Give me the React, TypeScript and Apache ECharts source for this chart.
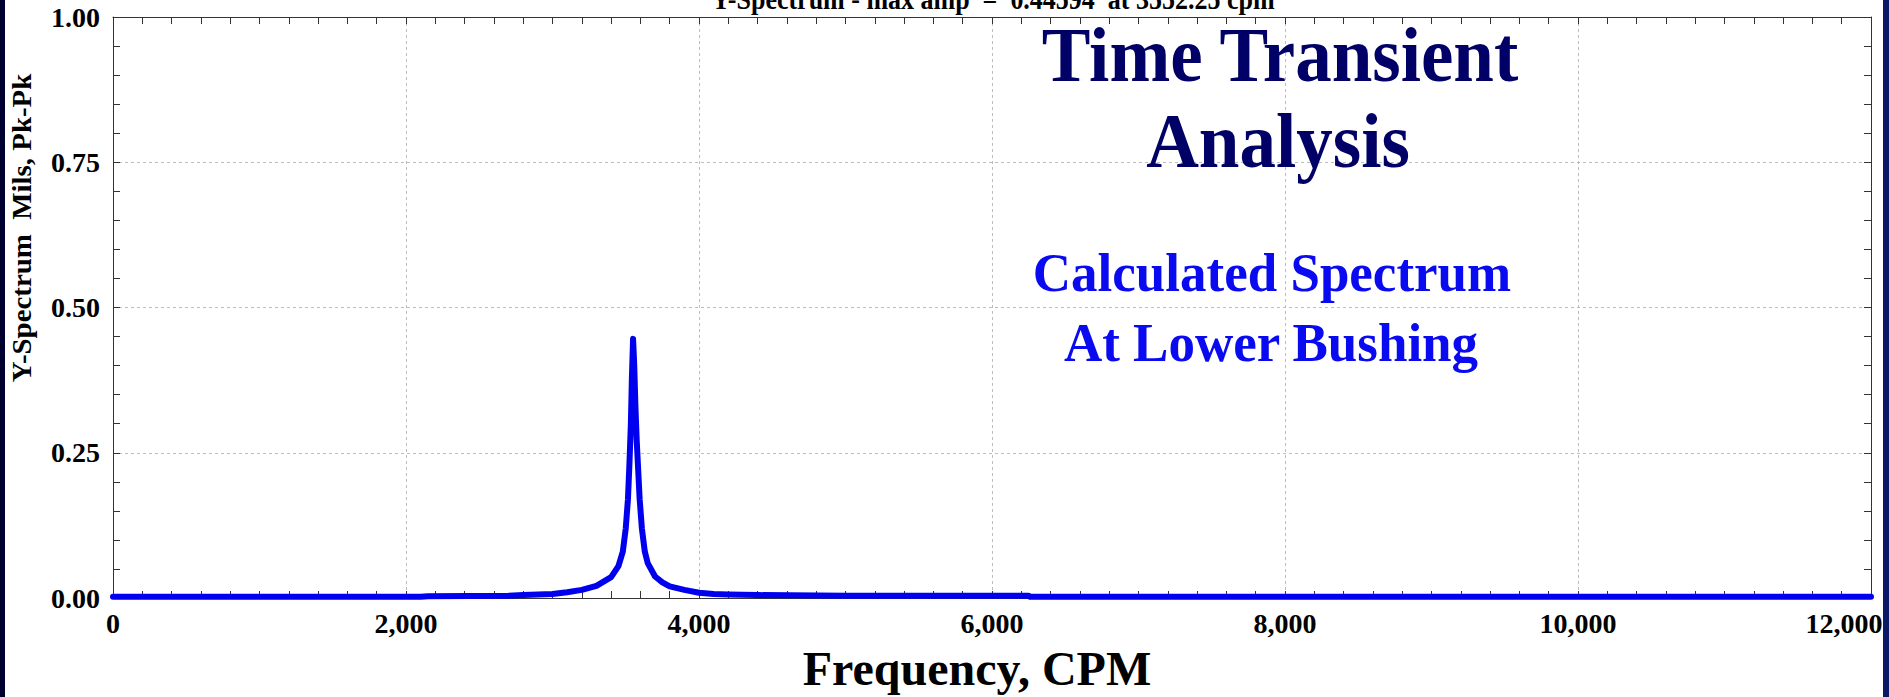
import React, { useEffect, useRef } from "react";
import * as echarts from "echarts";

// ---- data ----
const freqs = [0, 2100, 2150, 2700, 2800, 2900, 3000, 3100, 3200, 3300, 3400, 3450, 3480, 3500, 3515, 3525, 3535, 3542, 3550, 3558, 3566, 3575, 3585, 3595, 3610, 3630, 3650, 3700, 3750, 3800, 3900, 4000, 4100, 4200, 4400, 5000, 6250, 6260, 12000];
const amps = [0.002, 0.002, 0.003, 0.004, 0.005, 0.006, 0.007, 0.01, 0.014, 0.021, 0.036, 0.055, 0.08, 0.12, 0.17, 0.23, 0.3, 0.38, 0.446, 0.4, 0.33, 0.27, 0.22, 0.17, 0.12, 0.08, 0.06, 0.037, 0.027, 0.02, 0.014, 0.009, 0.007, 0.006, 0.005, 0.004, 0.004, 0.002, 0.002];

const xMin = 0, xMax = 12000, xStep = 2000;
const yMin = 0, yMax = 1, yStep = 0.25;

const topTitle = "Y-Spectrum - max amp  =  0.44594  at 3552.25 cpm";
const xName = "Frequency, CPM";
const yName = "Y-Spectrum  Mils, Pk-Pk";
const heading1 = ["Time Transient", "Analysis"];
const heading2 = ["Calculated Spectrum", "At Lower Bushing"];

const FONT = "'Liberation Serif', 'Times New Roman', serif";

export default function App() {
  const ref = useRef<HTMLDivElement>(null);
  useEffect(() => {
    if (!ref.current) return;
    const chart = echarts.init(ref.current, undefined, { renderer: "svg" });
    const data = freqs.map((f, i) => [f, amps[i]]);
    const tickCommon = {
      axisLine: { show: true, onZero: false, lineStyle: { color: "#333", width: 1 } },
      axisTick: { show: true, inside: true, length: 7, lineStyle: { color: "#333" } },
      minorTick: { show: true, length: 7, lineStyle: { color: "#333" } },
    };
    const option: any = {
      animation: false,
      backgroundColor: "transparent",
      grid: { left: 113, right: 18, top: 17, bottom: 99, containLabel: false },
      xAxis: [
        {
          type: "value",
          min: xMin,
          max: xMax,
          interval: xStep,
          position: "bottom",
          ...tickCommon,
          minorTick: { ...tickCommon.minorTick, splitNumber: 10 },
          splitLine: { show: true, lineStyle: { color: "#bdbdbd", type: [3, 3], width: 1 } },
          axisLabel: {
            margin: 11,
            color: "#000",
            fontSize: 28,
            fontWeight: "bold",
            fontFamily: FONT,
            formatter: (v: number) =>
              v === xMax ? "{m|" + v.toLocaleString("en-US") + "}" : v.toLocaleString("en-US"),
            rich: {
              m: { fontSize: 28, fontWeight: "bold", fontFamily: FONT, color: "#000", padding: [0, 54, 0, 0] },
            },
          },
          name: xName,
          nameLocation: "middle",
          nameGap: 46,
          nameTextStyle: {
            color: "#000",
            fontSize: 48,
            fontWeight: "bold",
            fontFamily: FONT,
            padding: [0, 30, 0, 0],
          },
        },
        {
          type: "value",
          min: xMin,
          max: xMax,
          interval: xStep,
          position: "top",
          ...tickCommon,
          minorTick: { ...tickCommon.minorTick, splitNumber: 10 },
          splitLine: { show: false },
          axisLabel: { show: false },
        },
      ],
      yAxis: [
        {
          type: "value",
          min: yMin,
          max: yMax,
          interval: yStep,
          position: "left",
          ...tickCommon,
          minorTick: { ...tickCommon.minorTick, splitNumber: 5 },
          splitLine: { show: true, lineStyle: { color: "#bdbdbd", type: [3, 3], width: 1 } },
          axisLabel: {
            margin: 13,
            color: "#000",
            fontSize: 28,
            fontWeight: "bold",
            fontFamily: FONT,
            formatter: (v: number) => v.toFixed(2),
          },
        },
        {
          type: "value",
          min: yMin,
          max: yMax,
          interval: yStep,
          position: "right",
          ...tickCommon,
          minorTick: { ...tickCommon.minorTick, splitNumber: 5 },
          splitLine: { show: false },
          axisLabel: { show: false },
        },
      ],
      series: [
        {
          type: "line",
          xAxisIndex: 0,
          yAxisIndex: 0,
          data,
          showSymbol: false,
          clip: false,
          lineStyle: { color: "#0000ee", width: 6, join: "round", cap: "round" },
          z: 5,
        },
      ],
      graphic: [
        {
          type: "text",
          x: 993,
          y: -1,
          scaleY: 1.15,
          z: 100,
          style: {
            text: topTitle,
            fill: "#000",
            font: `bold 26px ${FONT}`,
            align: "center",
            verticalAlign: "middle",
          },
        },
        {
          type: "text",
          x: 22,
          y: 228,
          rotation: Math.PI / 2,
          scaleX: 1.07,
          z: 100,
          style: {
            text: yName,
            fill: "#000",
            font: `bold 27px ${FONT}`,
            align: "center",
            verticalAlign: "middle",
          },
        },
        {
          type: "text",
          x: 1280,
          y: 54,
          scaleY: 1.08,
          z: 100,
          style: { text: heading1[0], fill: "#000066", font: `bold 73px ${FONT}`, align: "center", verticalAlign: "middle" },
        },
        {
          type: "text",
          x: 1278,
          y: 140,
          scaleY: 1.08,
          z: 100,
          style: { text: heading1[1], fill: "#000066", font: `bold 73px ${FONT}`, align: "center", verticalAlign: "middle" },
        },
        {
          type: "text",
          x: 1272,
          y: 273,
          scaleY: 1.05,
          z: 100,
          style: { text: heading2[0], fill: "#0a0af0", font: `bold 53px ${FONT}`, align: "center", verticalAlign: "middle" },
        },
        {
          type: "text",
          x: 1271,
          y: 343,
          scaleY: 1.05,
          z: 100,
          style: { text: heading2[1], fill: "#0a0af0", font: `bold 53px ${FONT}`, align: "center", verticalAlign: "middle" },
        },
      ],
    };
    chart.setOption(option);
    return () => chart.dispose();
  }, []);

  return (
    <div
      style={{
        position: "absolute",
        left: 0,
        top: 0,
        width: 1889,
        height: 697,
        background:
          "linear-gradient(to right, #000030 0px, #000030 5px, #ffffff 5px, #ffffff 1883px, #0a1866 1883px, #0a1866 1889px)",
      }}
    >
      <div ref={ref} style={{ width: 1889, height: 697 }} />
    </div>
  );
}
